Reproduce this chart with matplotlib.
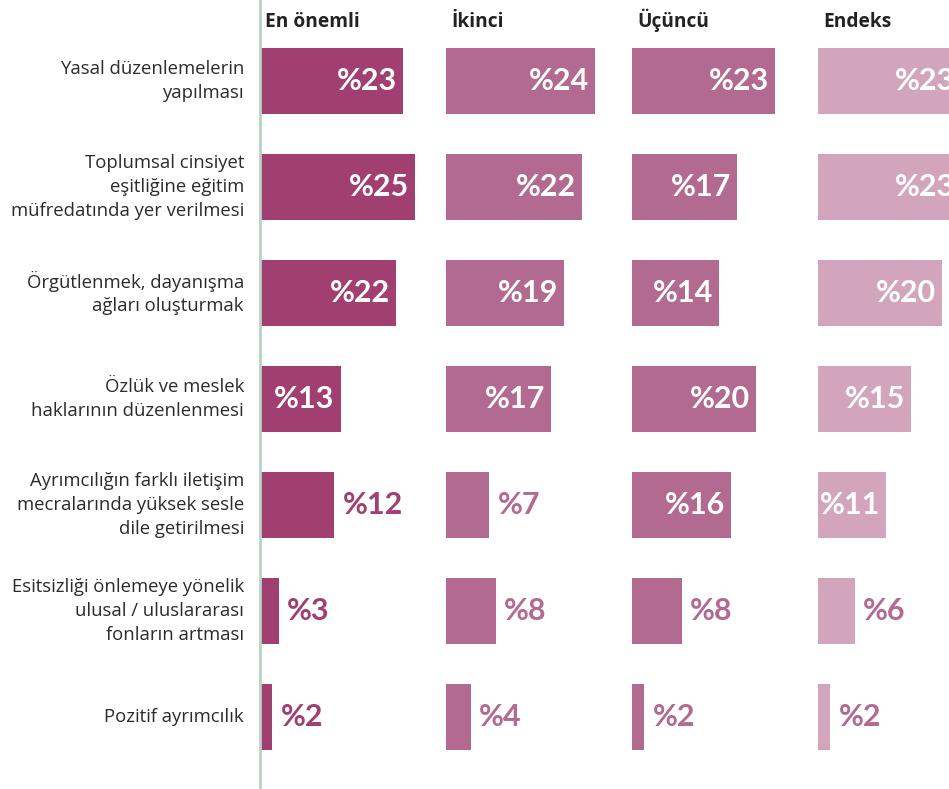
import matplotlib
matplotlib.use("Agg")
import matplotlib.pyplot as plt

categories = [
    "Yasal düzenlemelerin\nyapılması",
    "Toplumsal cinsiyet\neşitliğine eğitim\nmüfredatında yer verilmesi",
    "Örgütlenmek, dayanışma\nağları oluşturmak",
    "Özlük ve meslek\nhaklarının düzenlenmesi",
    "Ayrımcılığın farklı iletişim\nmecralarında yüksek sesle\ndile getirilmesi",
    "Esitsizliği önlemeye yönelik\nulusal / uluslararası\nfonların artması",
    "Pozitif ayrımcılık",
]
panels = ["En önemli", "İkinci", "Üçüncü", "Endeks"]
en_onemli = [23, 25, 22, 13, 12, 3, 2]
ikinci = [24, 22, 19, 17, 7, 8, 4]
ucuncu = [23, 17, 14, 20, 16, 8, 2]
endeks = [23, 23, 20, 15, 11, 6, 2]
series = [en_onemli, ikinci, ucuncu, endeks]
# whether the value label sits inside the bar
inside = [
    [True, True, True, True, False, False, False],
    [True, True, True, True, False, False, False],
    [True, True, True, True, True, False, False],
    [True, True, True, True, True, False, False],
]

bar_colors = ["#a03f70", "#b26a90", "#b26a90", "#d3a5bd"]
out_colors = ["#a03f70", "#b26a90", "#b26a90", "#b26a90"]

LABEL_FONT = ["Open Sans", "DejaVu Sans"]
VALUE_FONT = ["Lato", "DejaVu Sans"]
plt.rcParams["font.family"] = LABEL_FONT

W, H = 949, 789
fig = plt.figure(figsize=(W / 100, H / 100), dpi=100)
ax_left = 260 / W
ax = fig.add_axes([ax_left, 0, 1 - ax_left, 1])

px_per_unit = 6.2
offset = 186 / px_per_unit
row_h = 106.0
y_top = -81 / row_h
y_bot = (H - 81) / row_h
ax.set_xlim(0, (W - 260) / px_per_unit)
ax.set_ylim(y_bot, y_top)

for spine in ["top", "right", "bottom"]:
    ax.spines[spine].set_visible(False)
ax.spines["left"].set_color("#b9d3c2")
ax.spines["left"].set_linewidth(2)
ax.set_xticks([])
ax.set_yticks([])

ypos = list(range(len(categories)))
pad = 6 / px_per_unit
for p, (name, vals) in enumerate(zip(panels, series)):
    x0 = p * offset
    ax.barh(ypos, vals, left=x0, height=66 / row_h, color=bar_colors[p],
            edgecolor="none", clip_on=True)
    ax.text(x0 + 5 / px_per_unit, (27 - 81) / row_h, name, ha="left", va="baseline",
            fontsize=13.8, fontweight="bold", color="#222222", family=LABEL_FONT)
    for i, v in enumerate(vals):
        if inside[p][i]:
            ax.text(x0 + v - pad, i, f"%{v}", ha="right", va="center",
                    fontsize=22, fontweight="bold", color="white", clip_on=True,
                    family=VALUE_FONT)
        else:
            ax.text(x0 + v + 8 / px_per_unit, i, f"%{v}", ha="left", va="center",
                    fontsize=22, fontweight="bold", color=out_colors[p], clip_on=True,
                    family=VALUE_FONT)

for i, cat in enumerate(categories):
    ax.text(-16 / px_per_unit, i, cat, ha="right", va="center", fontsize=13.3,
            color="#2b2b2b", linespacing=1.42, clip_on=False, family=LABEL_FONT)

fig.savefig("out.png", dpi=100)
